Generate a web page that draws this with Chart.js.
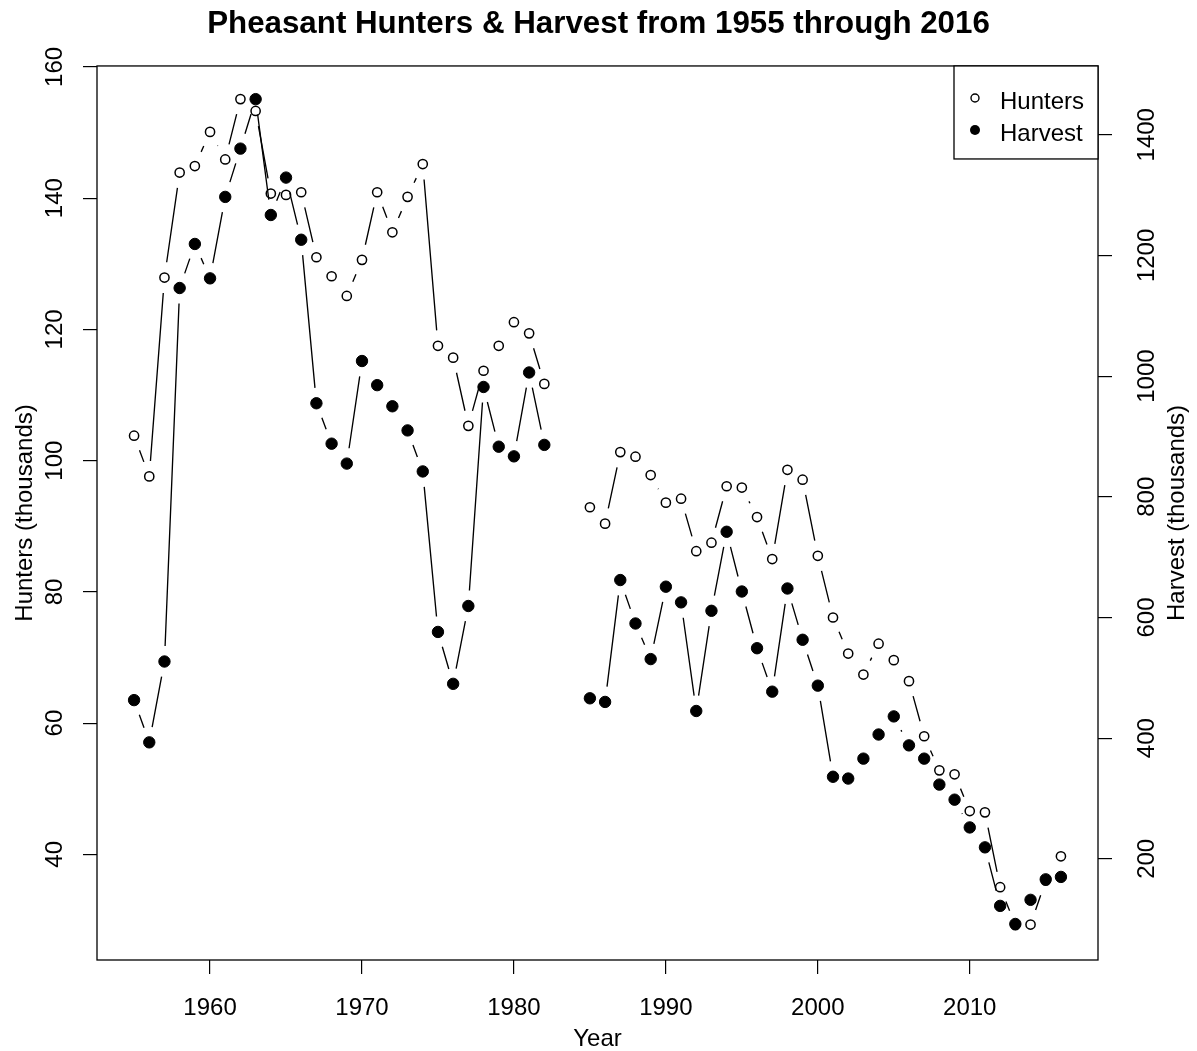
<!DOCTYPE html>
<html>
<head>
<meta charset="utf-8">
<title>Pheasant Hunters &amp; Harvest</title>
<script src="https://cdn.jsdelivr.net/npm/chart.js@4.4.0/dist/chart.umd.min.js"></script>
<style>
  html, body { margin: 0; padding: 0; background: #fff; }
  #wrap { width: 1197px; height: 1051px; }
</style>
</head>
<body>
<div id="wrap"><canvas id="chart" width="1197" height="1051"></canvas></div>
<script>
// data (thousands), no survey in 1983/1984
const years = [
  1955, 1956, 1957, 1958, 1959, 1960, 1961, 1962, 1963, 1964,
  1965, 1966, 1967, 1968, 1969, 1970, 1971, 1972, 1973, 1974,
  1975, 1976, 1977, 1978, 1979, 1980, 1981, 1982, 1983, 1984,
  1985, 1986, 1987, 1988, 1989, 1990, 1991, 1992, 1993, 1994,
  1995, 1996, 1997, 1998, 1999, 2000, 2001, 2002, 2003, 2004,
  2005, 2006, 2007, 2008, 2009, 2010, 2011, 2012, 2013, 2014,
  2015, 2016
];
const hunters = [
  103.8, 97.6, 127.9, 143.9, 144.9, 150.1, 145.9, 155.1, 153.3, 140.7,
  140.5, 140.9, 131.0, 128.1, 125.1, 130.6, 140.9, 134.8, 140.2, 145.2,
  117.5, 115.7, 105.3, 113.7, 117.5, 121.1, 119.4, 111.7, null, null,
  92.9, 90.4, 101.3, 100.6, 97.8, 93.6, 94.2, 86.2, 87.5, 96.1,
  95.9, 91.4, 85.0, 98.6, 97.1, 85.5, 76.1, 70.6, 67.4, 72.1,
  69.6, 66.4, 58.0, 52.8, 52.2, 46.6, 46.4, 35.0, 29.2, 29.3,
  36.0, 39.7
];
const harvest = [
  463, 393, 527, 1146, 1219, 1162, 1297, 1377, 1459, 1267,
  1329, 1226, 955, 888, 855, 1025, 985, 950, 910, 842,
  576, 490, 619, 982, 883, 867, 1006, 886, null, null,
  466, 460, 662, 590, 531, 651, 625, 445, 611, 742,
  643, 549, 477, 648, 563, 487, 336, 333, 366, 406,
  436, 388, 366, 323, 298, 252, 219, 122, 92, 132,
  166, 170
];
const yearTicks = [1960, 1970, 1980, 1990, 2000, 2010];
const hunterTicks = [40, 60, 80, 100, 120, 140, 160];
const harvestTicks = [200, 400, 600, 800, 1000, 1200, 1400];

const FONT = "'Liberation Sans', Arial, Helvetica, sans-serif";

// R type="b": segments stop short of each point
const gappedLines = {
  id: 'gappedLines',
  beforeDatasetDraw(chart, args) {
    const ds = chart.data.datasets[args.index];
    const pts = args.meta.data;
    const gap = ds.lineGap;
    const ctx = chart.ctx;
    ctx.save();
    ctx.strokeStyle = '#000';
    ctx.lineWidth = 1.35;
    ctx.beginPath();
    for (let i = 0; i < pts.length - 1; i++) {
      const a = pts[i], b = pts[i + 1];
      if (a.skip || b.skip) continue;
      const dx = b.x - a.x, dy = b.y - a.y;
      const len = Math.sqrt(dx * dx + dy * dy);
      if (len <= 2 * gap) continue;
      const ux = dx / len, uy = dy / len;
      ctx.moveTo(a.x + ux * gap, a.y + uy * gap);
      ctx.lineTo(b.x - ux * gap, b.y - uy * gap);
    }
    ctx.stroke();
    ctx.restore();
  }
};

// box, rotated y labels, axis titles and legend in the R style
const rDecor = {
  id: 'rDecor',
  afterDraw(chart) {
    const ctx = chart.ctx;
    const area = chart.chartArea;
    ctx.save();
    ctx.strokeStyle = '#000';
    ctx.lineWidth = 1.3;
    ctx.strokeRect(area.left, area.top, area.right - area.left, area.bottom - area.top);

    ctx.fillStyle = '#000';
    ctx.font = '24px ' + FONT;
    ctx.textAlign = 'center';
    ctx.textBaseline = 'alphabetic';

    const rotText = (text, x, y) => {
      ctx.save();
      ctx.translate(x, y);
      ctx.rotate(-Math.PI / 2);
      ctx.fillText(text, 0, 0);
      ctx.restore();
    };

    const yL = chart.scales.y;
    hunterTicks.forEach(v => rotText(String(v), area.left - 35, yL.getPixelForValue(v)));
    const yR = chart.scales.y1;
    harvestTicks.forEach(v => rotText(String(v), area.right + 56, yR.getPixelForValue(v)));

    const midY = (area.top + area.bottom) / 2;
    rotText('Hunters (thousands)', 32, midY);
    rotText('Harvest (thousands)', area.right + 86, midY);
    ctx.fillText('Year', (area.left + area.right) / 2, 1046);

    // legend
    const w = 144, h = 93;
    const lx = area.right - w, ly = area.top;
    ctx.fillStyle = '#fff';
    ctx.fillRect(lx, ly, w, h);
    ctx.strokeRect(lx, ly, w, h);
    const sets = chart.data.datasets.slice().sort((a, b) => a.legendRank - b.legendRank);
    sets.forEach((ds, i) => {
      const cy = ly + 32 + i * 32;
      ctx.beginPath();
      ctx.arc(lx + 21, cy, ds.filled ? 5 : 4, 0, Math.PI * 2);
      if (ds.filled) {
        ctx.fillStyle = '#000';
        ctx.fill();
      } else {
        ctx.lineWidth = 1.4;
        ctx.stroke();
      }
      ctx.fillStyle = '#000';
      ctx.textAlign = 'left';
      ctx.fillText(ds.label, lx + 46, cy + 11.5);
    });
    ctx.restore();
  }
};

class PheasantChart {
  chart = null;

  points(values) {
    const out = [];
    years.forEach((yr, i) => out.push({ x: yr, y: values[i] }));
    return out;
  }

  build() {
    const data = {
      datasets: [
        {
          label: 'Hunters',
          data: this.points(hunters),
          yAxisID: 'y',
          order: 2,
          legendRank: 0,
          filled: false,
          lineGap: 15.5,
          showLine: false,
          pointRadius: 4.6,
          pointBorderWidth: 1.5,
          pointBackgroundColor: 'rgba(0,0,0,0)',
          pointBorderColor: '#000'
        },
        {
          label: 'Harvest',
          data: this.points(harvest),
          yAxisID: 'y1',
          order: 1,
          legendRank: 1,
          filled: true,
          lineGap: 15.5,
          showLine: false,
          pointRadius: 5.7,
          pointBorderWidth: 1,
          pointBackgroundColor: '#000',
          pointBorderColor: '#000'
        }
      ]
    };

    const tickGrid = {
      display: true,
      drawOnChartArea: false,
      drawTicks: true,
      tickLength: 14,
      color: '#000',
      lineWidth: 1.2
    };

    const options = {
      responsive: false,
      animation: false,
      events: [],
      layout: { padding: 0 },
      plugins: {
        legend: { display: false },
        tooltip: { enabled: false },
        title: {
          display: true,
          text: 'Pheasant Hunters & Harvest from 1955 through 2016',
          color: '#000',
          font: { family: FONT, size: 31.3, weight: 'bold' },
          padding: { top: 5.2, bottom: 23.2 }
        }
      },
      scales: {
        x: {
          type: 'linear',
          position: 'bottom',
          min: 1952.56,
          max: 2018.44,
          afterBuildTicks: s => { s.ticks = yearTicks.map(v => ({ value: v })); },
          afterFit: s => { s.height = 91; },
          grid: tickGrid,
          border: { display: false },
          ticks: {
            color: '#000',
            font: { family: FONT, size: 24 },
            padding: 20,
            maxRotation: 0,
            callback: v => String(v)
          }
        },
        y: {
          type: 'linear',
          position: 'left',
          min: 23.9,
          max: 160.15,
          afterBuildTicks: s => { s.ticks = hunterTicks.map(v => ({ value: v })); },
          afterFit: s => { s.width = 97; },
          grid: tickGrid,
          border: { display: false },
          ticks: { display: false }
        },
        y1: {
          type: 'linear',
          position: 'right',
          min: 32.3,
          max: 1514,
          afterBuildTicks: s => { s.ticks = harvestTicks.map(v => ({ value: v })); },
          afterFit: s => { s.width = 99; },
          grid: tickGrid,
          border: { display: false },
          ticks: { display: false }
        }
      }
    };

    this.chart = new Chart(document.getElementById('chart'), {
      type: 'scatter',
      data: data,
      options: options,
      plugins: [gappedLines, rDecor]
    });
  }
}

new PheasantChart().build();
</script>
</body>
</html>
